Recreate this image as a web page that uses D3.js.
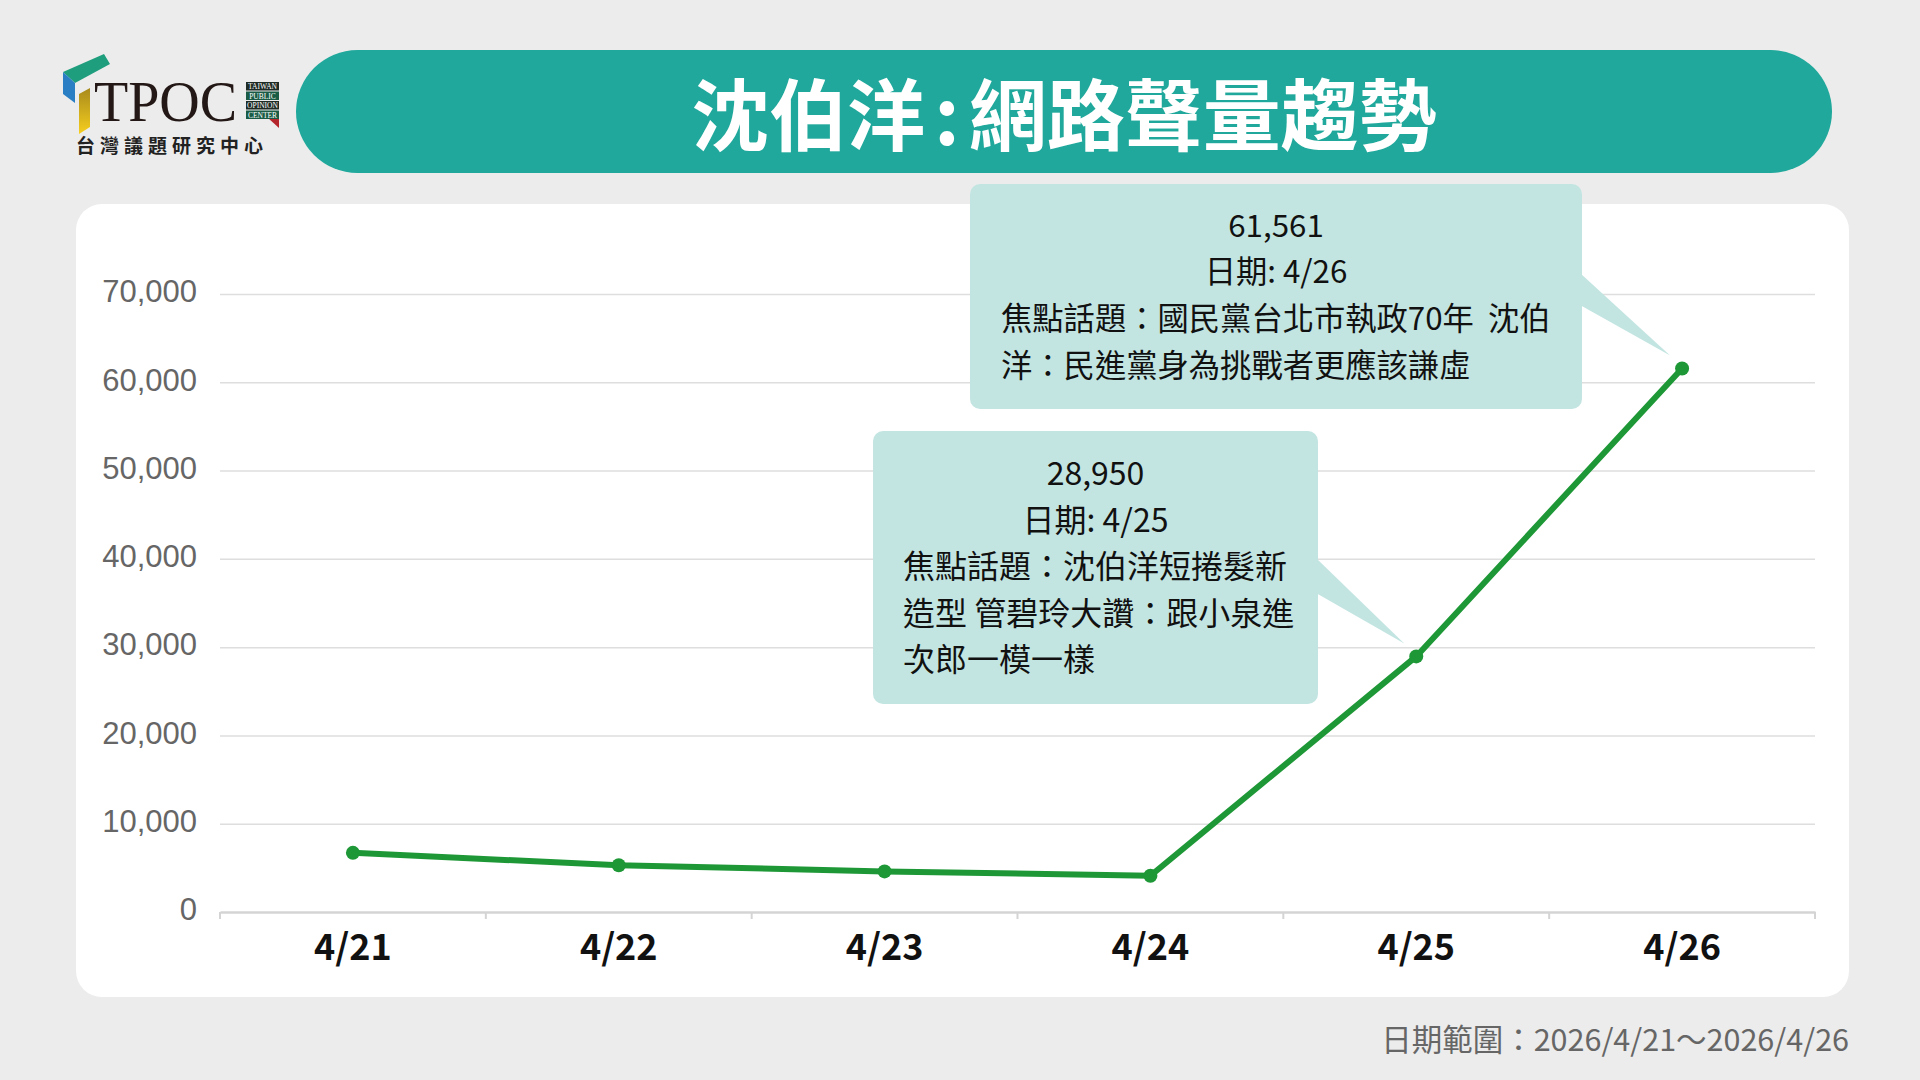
<!DOCTYPE html>
<html>
<head>
<meta charset="utf-8">
<script src="https://cdn.jsdelivr.net/npm/d3@7/dist/d3.min.js"></script>
<style>
  html, body { margin: 0; padding: 0; background: #ececec; }
  svg { display: block; }
  text { white-space: pre; }
</style>
</head>
<body>
<svg id="chart" width="1920" height="1080"></svg>
<script>
// ---------- DATA ----------
const categories = ["4/21", "4/22", "4/23", "4/24", "4/25", "4/26"];
const volumes = [6700, 5300, 4600, 4100, 28950, 61561];
const yTicks = [0, 10000, 20000, 30000, 40000, 50000, 60000, 70000];
const titleParts = ["沈伯洋", ":", "網路聲量趨勢"];
const footerText = "日期範圍：2026/4/21～2026/4/26";
const logoSubtitle = "台灣議題研究中心";
const logoBoxLines = ["TAIWAN", "PUBLIC", "OPINION", "CENTER"];
const callout1Category = "4/26";
const callout1Center = ["61,561", "日期: 4/26"];
const callout1Left = ["焦點話題：國民黨台北市執政70年  沈伯", "洋：民進黨身為挑戰者更應該謙虛"];
const callout2Category = "4/25";
const callout2Center = ["28,950", "日期: 4/25"];
const callout2Left = ["焦點話題：沈伯洋短捲髮新", "造型 管碧玲大讚：跟小泉進", "次郎一模一樣"];

// ---------- LAYOUT ----------
const CJK = "'Noto Sans CJK TC', 'Noto Sans', sans-serif";
const svg = d3.select("#chart");
const plot = { left: 220, right: 1815, top: 294, bottom: 912 };

svg.append("rect").attr("width", 1920).attr("height", 1080).attr("fill", "#ececec");

// Title pill
svg.append("rect").attr("x", 296).attr("y", 50).attr("width", 1536).attr("height", 123)
  .attr("rx", 61.5).attr("fill", "#1fa89b");
const title = svg.append("text").attr("x", 1064).attr("y", 111)
  .attr("text-anchor", "middle").attr("dominant-baseline", "central")
  .attr("font-family", CJK).attr("font-weight", 700).attr("font-size", 78)
  .attr("fill", "#ffffff");
title.append("tspan").text(titleParts[0]);
title.append("tspan").attr("dx", 9).text(titleParts[1]);
title.append("tspan").attr("dx", 9).text(titleParts[2]);

// Logo
const logo = svg.append("g");
const defs = svg.append("defs");
const yg = defs.append("linearGradient").attr("id", "yel").attr("x1", 0).attr("y1", 0).attr("x2", 0).attr("y2", 1);
yg.append("stop").attr("offset", "0%").attr("stop-color", "#a88a1c");
yg.append("stop").attr("offset", "100%").attr("stop-color", "#f6cf1e");
logo.append("polygon").attr("points", "63,72 104,54 110,64 75,83").attr("fill", "#1f9e7e");
logo.append("polygon").attr("points", "63,72 75,83 75,103 63,94").attr("fill", "#2a7fc4");
logo.append("polygon").attr("points", "79,94 90,88 90,127 79,134").attr("fill", "url(#yel)");
logo.append("text").attr("x", 94).attr("y", 121)
  .attr("font-family", "'Liberation Serif', 'DejaVu Serif', serif").attr("font-size", 56)
  .attr("fill", "#231815").text("TPOC");
const lb = logo.append("g").attr("transform", "translate(246,82)");
lb.append("polygon").attr("points", "22,36 33,34 33,46").attr("fill", "#b5262c");
logoBoxLines.forEach((t, i) => {
  lb.append("rect").attr("x", 0).attr("y", i * 9.5).attr("width", 33).attr("height", 8.5).attr("fill", i % 2 ? "#1a5b45" : "#1e2a24");
  lb.append("text").attr("x", 16.5).attr("y", i * 9.5 + 7).attr("text-anchor", "middle")
    .attr("font-family", "'Liberation Serif', serif").attr("font-size", 7.5).attr("fill", "#ffffff").text(t);
});
logo.append("text").attr("x", 76).attr("y", 153)
  .attr("font-family", CJK).attr("font-weight", 700).attr("font-size", 19)
  .attr("letter-spacing", 5).attr("fill", "#222").text(logoSubtitle);

// Chart panel
svg.append("rect").attr("x", 76).attr("y", 204).attr("width", 1773).attr("height", 793)
  .attr("rx", 26).attr("fill", "#ffffff");

// Scales
const x = d3.scaleBand().domain(categories).range([plot.left, plot.right]).padding(0);
const y = d3.scaleLinear().domain([0, 70000]).range([plot.bottom, plot.top]);
const cx = c => x(c) + x.bandwidth() / 2;

// Gridlines + y labels
const yAxis = svg.append("g").attr("transform", `translate(${plot.left},0)`)
  .call(d3.axisLeft(y).tickValues(yTicks).tickFormat(d3.format(",")).tickSize(-(plot.right - plot.left)).tickPadding(23));
yAxis.select(".domain").remove();
yAxis.selectAll(".tick line").attr("stroke", "#dedede").attr("stroke-width", 1.5);
yAxis.selectAll(".tick").filter(d => d === 0).select("line").remove();
yAxis.selectAll(".tick text").attr("font-family", "'Liberation Sans', Arial, sans-serif")
  .attr("font-size", 31).attr("fill", "#666").attr("dy", "0.25em");

// X axis
const xAxis = svg.append("g").attr("transform", `translate(0,${plot.bottom})`)
  .call(d3.axisBottom(x).tickSize(0).tickPadding(22));
xAxis.select(".domain").attr("stroke", "#d4d4d4").attr("stroke-width", 2.5);
xAxis.selectAll(".tick text").attr("font-family", CJK).attr("font-weight", 700)
  .attr("font-size", 36).attr("fill", "#111");
// boundary ticks
const bounds = categories.map(c => x(c)).concat([plot.right]);
svg.append("g").selectAll("line").data(bounds).join("line")
  .attr("x1", d => d).attr("x2", d => d).attr("y1", plot.bottom).attr("y2", plot.bottom + 7)
  .attr("stroke", "#d4d4d4").attr("stroke-width", 2);

// Callouts
function callout(cat, centerLines, leftLines, box) {
  const px = cx(cat), py = y(volumes[categories.indexOf(cat)]);
  const g = svg.append("g");
  g.append("polygon")
    .attr("points", `${box.x + box.w - 2},${box.tailTop} ${box.x + box.w - 2},${box.tailBot} ${px - 12},${py - 13}`)
    .attr("fill", "#c3e5e2");
  g.append("rect").attr("x", box.x).attr("y", box.y).attr("width", box.w).attr("height", box.h)
    .attr("rx", 10).attr("fill", "#c3e5e2");
  const lines = centerLines.map(t => ({ t, c: true })).concat(leftLines.map(t => ({ t, c: false })));
  lines.forEach((l, i) => {
    g.append("text")
      .attr("x", l.c ? box.x + box.w / 2 : box.leftX)
      .attr("y", box.firstY + i * box.lh)
      .attr("text-anchor", l.c ? "middle" : "start")
      .attr("dominant-baseline", "central")
      .attr("font-family", CJK).attr("font-size", box.fs).attr("fill", "#111")
      .text(l.t);
  });
}
callout(callout1Category, callout1Center, callout1Left,
  { x: 970, y: 184, w: 612, h: 225, tailTop: 273, tailBot: 305, leftX: 1001, firstY: 223, lh: 46.7, fs: 31.3 });
callout(callout2Category, callout2Center, callout2Left,
  { x: 873, y: 431, w: 445, h: 273, tailTop: 558, tailBot: 593, leftX: 903, firstY: 471, lh: 46.5, fs: 32 });

// Line + dots
const line = d3.line().x((d, i) => cx(categories[i])).y(d => y(d));
svg.append("path").datum(volumes).attr("d", line)
  .attr("fill", "none").attr("stroke", "#1e9837").attr("stroke-width", 6)
  .attr("stroke-linejoin", "round").attr("stroke-linecap", "round");
svg.append("g").selectAll("circle").data(volumes).join("circle")
  .attr("cx", (d, i) => cx(categories[i])).attr("cy", d => y(d)).attr("r", 7)
  .attr("fill", "#1e9837");

// Footer
svg.append("text").attr("x", 1849).attr("y", 1038).attr("text-anchor", "end")
  .attr("dominant-baseline", "central")
  .attr("font-family", CJK).attr("font-size", 30.5).attr("fill", "#666").text(footerText);
</script>
</body>
</html>
